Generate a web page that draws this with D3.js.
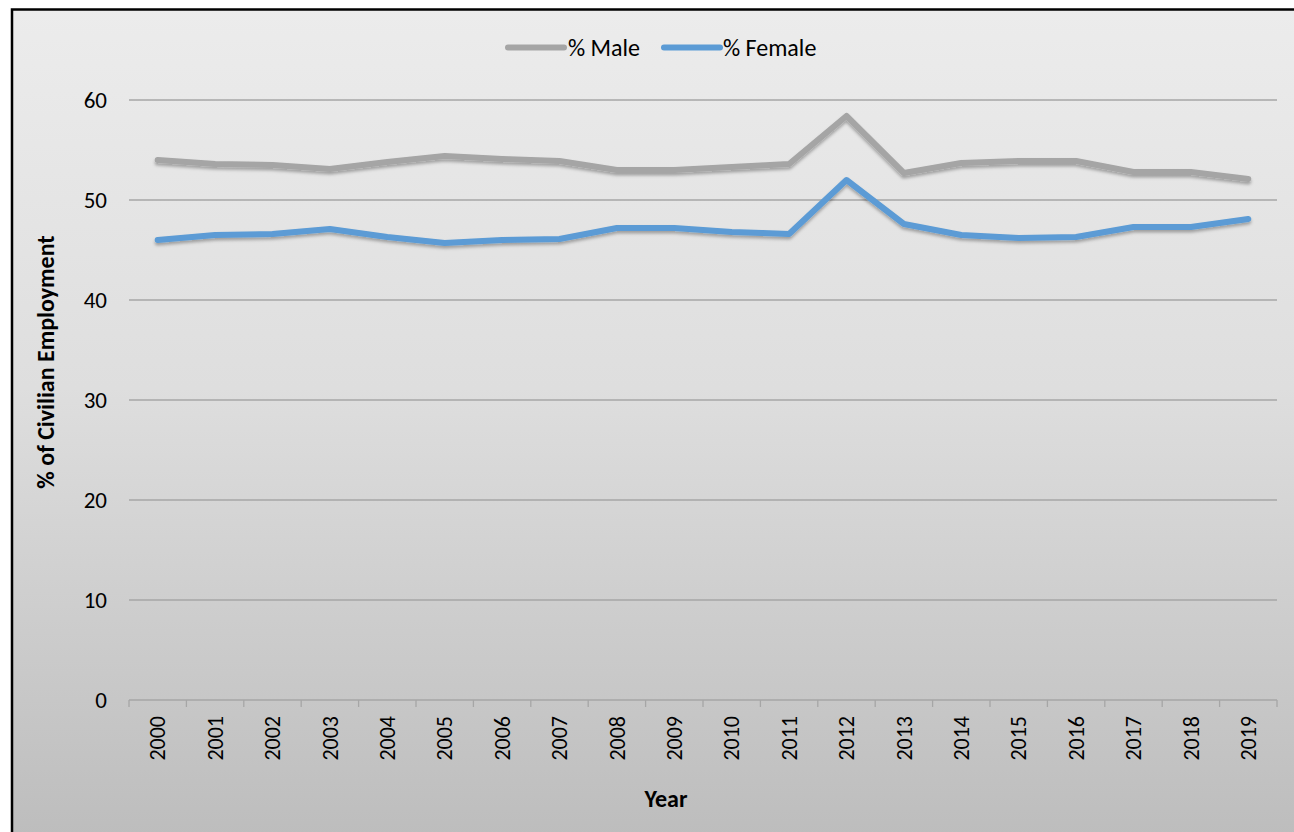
<!DOCTYPE html>
<html>
<head>
<meta charset="utf-8">
<script src="https://cdn.jsdelivr.net/npm/d3@7/dist/d3.min.js"></script>
<style>
  html, body { margin: 0; padding: 0; background: #ffffff; }
  svg { display: block; }
  text { font-family: Carlito, Calibri, "Open Sans", sans-serif; fill: #000; }
</style>
</head>
<body>
<svg id="chart" width="1294" height="832"></svg>
<script>
const years = ["2000","2001","2002","2003","2004","2005","2006","2007","2008","2009",
               "2010","2011","2012","2013","2014","2015","2016","2017","2018","2019"];
const maleValues = [54.0, 53.6, 53.5, 53.1, 53.8, 54.4, 54.1, 53.9, 53.0, 53.0,
                    53.3, 53.6, 58.4, 52.7, 53.7, 53.9, 53.9, 52.8, 52.8, 52.1];
const femaleValues = [46.0, 46.5, 46.6, 47.1, 46.3, 45.7, 46.0, 46.1, 47.2, 47.2,
                      46.8, 46.6, 52.0, 47.6, 46.5, 46.2, 46.3, 47.3, 47.3, 48.1];
const yTicks = [0, 10, 20, 30, 40, 50, 60];
const seriesNames = ["% Male", "% Female"];
const seriesColors = ["#a5a5a5", "#5b9bd5"];

const svg = d3.select("#chart");
const defs = svg.append("defs");

const grad = defs.append("linearGradient")
  .attr("id", "bg").attr("x1", 0).attr("y1", 0).attr("x2", 0).attr("y2", 1);
grad.append("stop").attr("offset", "0%").attr("stop-color", "#ececec");
grad.append("stop").attr("offset", "45%").attr("stop-color", "#dedede");
grad.append("stop").attr("offset", "100%").attr("stop-color", "#bcbcbc");

const shadow = defs.append("filter").attr("id", "shadow")
  .attr("x", "-5%").attr("y", "-20%").attr("width", "110%").attr("height", "140%");
shadow.append("feDropShadow").attr("dx", 0).attr("dy", 2.5).attr("stdDeviation", 1.6)
  .attr("flood-color", "#000").attr("flood-opacity", 0.3);

// chart area (extends beyond the picture on right and bottom)
svg.append("rect").attr("x", 12).attr("y", 9.5).attr("width", 1320).attr("height", 840)
  .attr("fill", "url(#bg)").attr("stroke", "#000").attr("stroke-width", 2.5);

const plotLeft = 129, plotRight = 1277, plotTop = 100, plotBottom = 700;
const x = d3.scaleBand().domain(years).range([plotLeft, plotRight]);
const y = d3.scaleLinear().domain([0, 60]).range([plotBottom, plotTop]);
const cx = d => x(d) + x.bandwidth() / 2;

// gridlines
svg.append("g").selectAll("line").data(yTicks.filter(t => t > 0)).join("line")
  .attr("x1", plotLeft).attr("x2", plotRight)
  .attr("y1", d => y(d)).attr("y2", d => y(d))
  .attr("stroke", "#a6a6a6").attr("stroke-width", 1.3);

// x axis line and ticks
svg.append("line").attr("x1", plotLeft).attr("x2", plotRight).attr("y1", y(0)).attr("y2", y(0))
  .attr("stroke", "#a6a6a6").attr("stroke-width", 1.3);
const tickPos = years.map(d => x(d)).concat([plotRight]);
svg.append("g").selectAll("line").data(tickPos).join("line")
  .attr("x1", d => d).attr("x2", d => d).attr("y1", y(0)).attr("y2", y(0) + 7)
  .attr("stroke", "#a6a6a6").attr("stroke-width", 1.3);

// y tick labels
svg.append("g").selectAll("text").data(yTicks).join("text")
  .attr("x", 107).attr("y", d => y(d)).attr("dy", "0.35em")
  .attr("text-anchor", "end").attr("font-size", 23).text(d => d);

// x tick labels
svg.append("g").selectAll("text").data(years).join("text")
  .attr("transform", d => `translate(${cx(d)},716) rotate(-90)`)
  .attr("dy", "0.35em").attr("text-anchor", "end").attr("font-size", 22).text(d => d);

// axis titles
svg.append("text").attr("transform", "translate(46,362) rotate(-90)")
  .attr("dy", "0.35em").attr("text-anchor", "middle").attr("font-size", 24)
  .attr("font-weight", "bold").text("% of Civilian Employment");
svg.append("text").attr("x", 666).attr("y", 807).attr("text-anchor", "middle")
  .attr("font-size", 24).attr("font-weight", "bold").text("Year");

// lines
const line = d3.line().x((d, i) => cx(years[i])).y(d => y(d));
[maleValues, femaleValues].forEach((vals, k) => {
  svg.append("path").datum(vals).attr("d", line)
    .attr("fill", "none").attr("stroke", seriesColors[k]).attr("stroke-width", 6)
    .attr("stroke-linecap", "round").attr("stroke-linejoin", "round")
    .attr("filter", "url(#shadow)");
});

// legend
const legendItems = [{x1: 508, x2: 564, tx: 568}, {x1: 664, x2: 720, tx: 723}];
legendItems.forEach((it, k) => {
  svg.append("line").attr("x1", it.x1).attr("x2", it.x2).attr("y1", 47.5).attr("y2", 47.5)
    .attr("stroke", seriesColors[k]).attr("stroke-width", 6).attr("stroke-linecap", "round");
  svg.append("text").attr("x", it.tx).attr("y", 47.5).attr("dy", "0.35em")
    .attr("font-size", 24).text(seriesNames[k]);
});
</script>
</body>
</html>
